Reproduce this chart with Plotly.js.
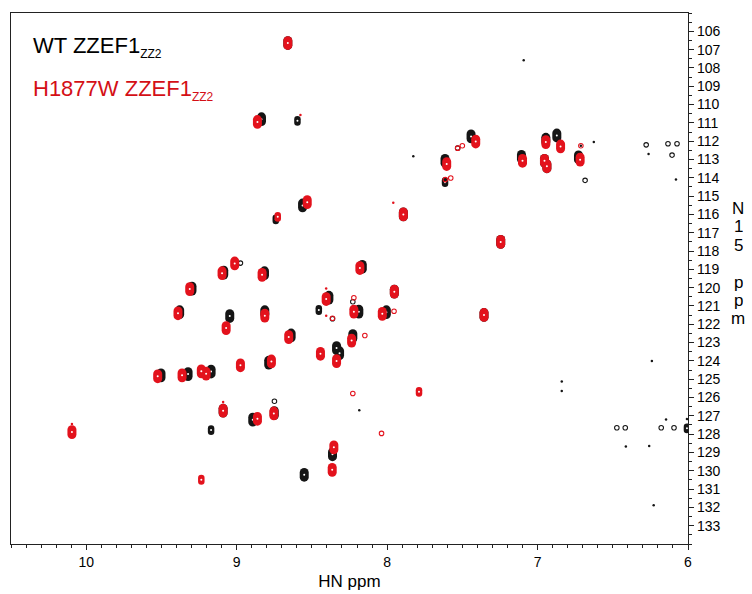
<!DOCTYPE html>
<html>
<head>
<meta charset="utf-8">
<script src="https://cdn.plot.ly/plotly-3.0.1.min.js"></script>
<style>
html,body{margin:0;padding:0;background:#fff;}
#chart{width:752px;height:594px;}
#chart .scatterlayer .js-line{stroke-linecap:round !important;}
</style>
</head>
<body>
<div id="chart"></div>
<script>
// ---- data: 1H (HN) and 15N shifts (ppm) with relative peak intensity class (0 tiny .. 3 strong)
const wtX = [8.66, 8.835, 8.596, 8.562, 8.740, 8.975, 9.086, 8.815, 9.297, 8.165, 8.387, 8.228, 8.188, 9.379, 9.046, 8.813, 8.454, 8.363, 8.638, 8.228, 8.336, 8.316, 8.787, 9.170, 9.323, 9.503, 8.005, 7.892, 7.245, 7.952, 7.356, 8.893, 8.750, 8.749, 9.170, 9.090, 8.551, 8.363, 7.442, 7.615, 7.615, 7.531, 7.107, 6.945, 6.954, 6.938, 6.872, 6.728, 6.684, 6.712, 6.626, 6.278, 6.262, 6.133, 6.073, 6.106, 6.080, 7.092, 7.826, 6.473, 6.417, 6.178, 6.093, 6.007, 6.413, 6.258, 6.146, 6.007, 6.228, 6.240, 6.839, 6.839, 8.185];
const wtY = [106.64, 110.80, 110.89, 115.51, 116.27, 118.66, 119.18, 119.21, 120.05, 118.86, 120.55, 120.77, 121.31, 121.34, 121.55, 121.34, 121.22, 121.70, 122.61, 122.65, 123.30, 123.58, 124.10, 124.58, 124.72, 124.79, 121.34, 116.00, 117.50, 120.22, 121.49, 127.21, 126.85, 126.20, 127.78, 126.72, 130.22, 129.10, 111.74, 113.07, 114.24, 112.38, 112.86, 111.92, 113.07, 113.37, 111.69, 112.88, 114.14, 112.25, 112.05, 112.20, 112.70, 112.14, 112.14, 112.76, 114.10, 107.58, 112.83, 127.65, 127.65, 127.65, 127.65, 127.68, 128.68, 128.65, 127.20, 127.18, 131.89, 124.01, 125.13, 125.64, 126.69];
const wtI = [3, 3, 2, 3, 2, 1, 3, 3, 3, 3, 3, 1, 3, 3, 3, 3, 2, 1, 3, 3, 3, 3, 3, 3, 3, 3, 3, 3, 3, 3, 3, 3, 3, 1, 2, 3, 3, 3, 3, 3, 2, 1, 3, 3, 3, 3, 3, 3, 1, 0, 0, 1, 0, 1, 1, 1, 0, 0, 0, 1, 1, 1, 1, 2, 0, 0, 0, 0, 0, 0, 0, 0, 0];

const mutX = [8.660, 8.862, 8.576, 8.531, 8.727, 9.013, 9.097, 8.831, 9.312, 8.181, 8.405, 8.405, 8.221, 8.221, 9.390, 8.813, 9.070, 8.405, 8.363, 8.654, 8.236, 8.148, 8.443, 8.336, 8.769, 8.975, 9.235, 9.203, 9.363, 9.525, 8.228, 8.032, 7.954, 7.959, 7.892, 7.245, 7.952, 7.356, 7.788, 10.095, 9.090, 8.862, 8.753, 9.235, 8.354, 8.365, 8.037, 7.411, 7.500, 7.531, 7.604, 7.613, 7.577, 7.100, 6.945, 6.954, 6.938, 6.847, 6.712, 6.717, 10.095, 9.090];
const mutY = [106.64, 110.95, 110.57, 115.33, 116.13, 118.68, 119.21, 119.30, 120.08, 118.93, 120.04, 120.62, 120.55, 121.31, 121.40, 121.53, 122.21, 121.53, 121.67, 122.70, 122.89, 122.61, 123.61, 124.01, 124.03, 124.24, 124.57, 124.70, 124.79, 124.84, 125.78, 121.43, 121.29, 115.36, 116.00, 117.50, 120.22, 121.49, 125.69, 127.89, 126.72, 127.16, 126.87, 130.49, 128.72, 129.95, 127.96, 112.02, 112.25, 112.38, 113.25, 114.10, 114.01, 113.07, 112.05, 113.07, 113.37, 112.29, 112.25, 113.01, 127.45, 126.25];
const mutI = [3, 3, 0, 3, 2, 3, 3, 3, 3, 3, 0, 3, 1, 3, 3, 3, 3, 0, 1, 3, 3, 1, 3, 3, 3, 3, 3, 3, 3, 3, 1, 3, 1, 0, 3, 3, 3, 3, 2, 3, 3, 3, 3, 2, 3, 3, 1, 3, 1, 1, 3, 1, 1, 3, 3, 3, 3, 3, 1, 3, 0, 0];

const xTicks = [10, 9, 8, 7, 6];
const yTicks = [106,107,108,109,110,111,112,113,114,115,116,117,118,119,120,121,122,123,124,125,126,127,128,129,130,131,132,133];
const wtLabel = 'WT ZZEF1';
const mutLabel = 'H1877W ZZEF1';
const subLabel = 'ZZ2';
const xTitle = 'HN ppm';
const yTitle = 'N15 ppm';

// ---- styling
const FONT = 'Liberation Sans, Arial, Helvetica, sans-serif';
const BLACK = '#151515';
const RED = '#e3121c';
// strong / medium peaks: rounded vertical strokes (oval contour blobs)
const blobWidth = {3: 9, 2: 6.5};       // px
const blobHalfLen = {3: 0.13, 2: 0.09}; // ppm (vertical elongation of the oval)

function blobTrace(xs, ys, is, cls, color) {
  const bx = [], by = [];
  is.forEach((v, k) => {
    if (v !== cls) return;
    bx.push(xs[k], xs[k], null);
    by.push(ys[k] - blobHalfLen[cls], ys[k] + blobHalfLen[cls], null);
  });
  return {type: 'scatter', mode: 'lines', x: bx, y: by, connectgaps: false, hoverinfo: 'skip',
          line: {color: color, width: blobWidth[cls], simplify: false}};
}
function centerTrace(xs, ys, is, color) {
  return {
    type: 'scatter', mode: 'markers', x: xs, y: ys, hoverinfo: 'x+y',
    marker: {
      opacity: 1,
      color: is.map(v => v >= 2 ? '#ffffff' : color),
      symbol: is.map(v => v === 1 ? 'circle-open' : 'circle'),
      size: is.map(v => v >= 2 ? 2 : (v === 1 ? 4.5 : 2.5)),
      line: {color: color, width: is.map(v => v === 1 ? 1.1 : 0)}
    }
  };
}

const data = [
  blobTrace(wtX, wtY, wtI, 2, BLACK), blobTrace(wtX, wtY, wtI, 3, BLACK), centerTrace(wtX, wtY, wtI, BLACK),
  blobTrace(mutX, mutY, mutI, 2, RED), blobTrace(mutX, mutY, mutI, 3, RED), centerTrace(mutX, mutY, mutI, RED)
];

const L = 11, R = 64, T = 13, B = 50, W = 752, H = 594;
const pw = W - L - R, ph = H - T - B;
const px2x = p => (p - L) / pw;
const py2y = p => 1 - (p - T) / ph;

const annotations = [
  {text: wtLabel + '<sub><span style="font-size:12px">' + subLabel + '</span></sub>', xref: 'paper', yref: 'paper',
   x: px2x(31), y: py2y(47), xanchor: 'left', yanchor: 'middle', showarrow: false,
   font: {family: FONT, size: 22, color: '#000'}},
  {text: mutLabel + '<sub><span style="font-size:12px">' + subLabel + '</span></sub>', xref: 'paper', yref: 'paper',
   x: px2x(31), y: py2y(90), xanchor: 'left', yanchor: 'middle', showarrow: false,
   font: {family: FONT, size: 22, color: '#d40f16'}}
];
Array.from(yTitle).forEach((ch, k) => {
  if (ch === ' ') return;
  annotations.push({text: ch, xref: 'paper', yref: 'paper', x: px2x(738), y: py2y(208 + k * 18.4),
    xanchor: 'center', yanchor: 'middle', showarrow: false, height: 18, valign: 'middle',
    font: {family: FONT, size: 17, color: '#000'}});
});

const layout = {
  width: W, height: H,
  margin: {l: L, r: R, t: T, b: B, pad: 0},
  paper_bgcolor: '#fff', plot_bgcolor: '#fff',
  showlegend: false,
  font: {family: FONT, color: '#000'},
  xaxis: {
    range: [10.5, 6], tickvals: xTicks, ticktext: xTicks.map(String),
    ticks: 'outside', ticklen: 5, tickwidth: 1, tickcolor: '#222',
    minor: {dtick: 0.1, tick0: 0, ticks: 'outside', ticklen: 2.5, tickwidth: 1, tickcolor: '#222', showgrid: false},
    showline: true, linecolor: '#222', linewidth: 1.2, mirror: true,
    showgrid: false, zeroline: false,
    tickfont: {family: FONT, size: 14, color: '#000'},
    title: {text: xTitle, font: {family: FONT, size: 17, color: '#000'}, standoff: 6}
  },
  yaxis: {
    side: 'right', range: [134, 105], tickvals: yTicks, ticktext: yTicks.map(String),
    ticks: 'outside', ticklen: 5, tickwidth: 1, tickcolor: '#222',
    minor: {dtick: 0.5, tick0: 0, ticks: 'outside', ticklen: 2.5, tickwidth: 1, tickcolor: '#222', showgrid: false},
    showline: true, linecolor: '#222', linewidth: 1.2, mirror: true,
    showgrid: false, zeroline: false,
    tickfont: {family: FONT, size: 14, color: '#000'}
  },
  annotations: annotations
};

Plotly.newPlot('chart', data, layout, {displayModeBar: false, staticPlot: true});
</script>
</body>
</html>
